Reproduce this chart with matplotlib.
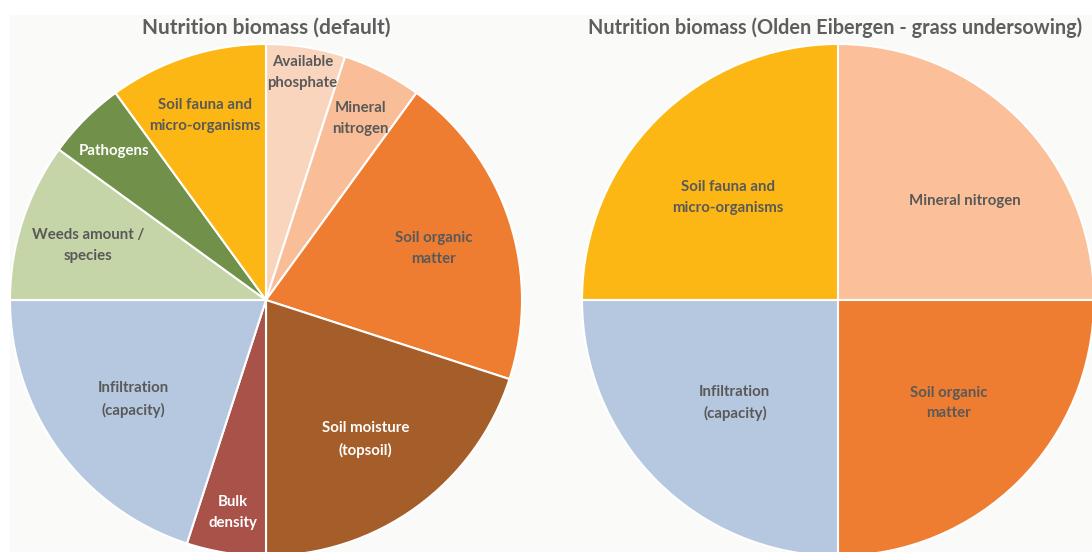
import matplotlib
matplotlib.use("Agg")
import matplotlib.pyplot as plt
from matplotlib.patches import Rectangle
import numpy as np

plt.rcParams['font.family'] = ['Lato', 'DejaVu Sans']

# ---- data ----
left_title = "Nutrition biomass (default)"
left_labels = ["Available\nphosphate", "Mineral\nnitrogen", "Soil organic\nmatter",
               "Soil moisture\n(topsoil)", "Bulk\ndensity", "Infiltration\n(capacity)",
               "Weeds amount /\nspecies", "Pathogens", "Soil fauna and\nmicro-organisms"]
left_values = [5, 5, 20, 20, 5, 20, 10, 5, 10]

right_title = "Nutrition biomass (Olden Eibergen - grass undersowing)"
right_labels = ["Mineral nitrogen", "Soil organic\nmatter", "Infiltration\n(capacity)",
                "Soil fauna and\nmicro-organisms"]
right_values = [25, 25, 25, 25]

# ---- style ----
C = {
    "Available\nphosphate": "#F9D5BE",
    "Mineral\nnitrogen": "#F9BE98",
    "Mineral nitrogen": "#FBBF99",
    "Soil organic\nmatter": "#EE7D31",
    "Soil moisture\n(topsoil)": "#A55D2A",
    "Bulk\ndensity": "#A8524A",
    "Infiltration\n(capacity)": "#B6C8DF",
    "Weeds amount /\nspecies": "#C6D5A7",
    "Pathogens": "#71904A",
    "Soil fauna and\nmicro-organisms": "#FDB714",
}
DARK = "#595959"
WHITE_TXT = {"Soil moisture\n(topsoil)", "Bulk\ndensity", "Pathogens"}
# label placement: fraction of radius, clockwise angle nudge (deg)
left_dist = [0.91, 0.81, 0.69, 0.66, 0.83, 0.64, 0.73, 0.84, 0.77]
left_nudge = [0, 0, 0, 0, 0, 0, 0, 0, 0]
right_dist = [0.63, 0.59, 0.57, 0.586]
right_nudge = [7, -2, 0, -2]

W, H = 1092, 552
fig = plt.figure(figsize=(W / 100, H / 100), dpi=100, facecolor="white")
ax = fig.add_axes([0, 0, 1, 1])

R = 256
centers = [(266, H - 300), (838, H - 300)]


def draw(values, labels, dists, nudges, center, title, title_x, title_size, y_shift):
    wedges, _ = ax.pie(values, colors=[C[l] for l in labels], startangle=90,
                       counterclock=False, radius=R, center=center,
                       wedgeprops=dict(edgecolor="white", linewidth=1.5))
    for w, lab, d, n in zip(wedges, labels, dists, nudges):
        ang = np.deg2rad((w.theta1 + w.theta2) / 2 - n)
        x = center[0] + R * d * np.cos(ang)
        y = center[1] + R * d * np.sin(ang) + y_shift
        ax.text(x, y, lab, ha="center", va="center", fontsize=10.8, fontweight="bold",
                color="white" if lab in WHITE_TXT else DARK, linespacing=1.62)
    ax.text(title_x, H - 28, title, ha="center", va="center", fontsize=title_size,
            fontweight="bold", color="#5E5E5E")


draw(left_values, left_labels, left_dist, left_nudge, centers[0], left_title, 266, 15, -3)
draw(right_values, right_labels, right_dist, right_nudge, centers[1], right_title, 835, 14.3, 0)

ax.add_patch(Rectangle((10, 0), W, H - 15, facecolor="#FAFAF9", edgecolor="none", zorder=0))
ax.set_xlim(0, W)
ax.set_ylim(0, H)
ax.set_aspect("auto")
ax.axis("off")

fig.savefig("out.png", dpi=100, facecolor="white")
